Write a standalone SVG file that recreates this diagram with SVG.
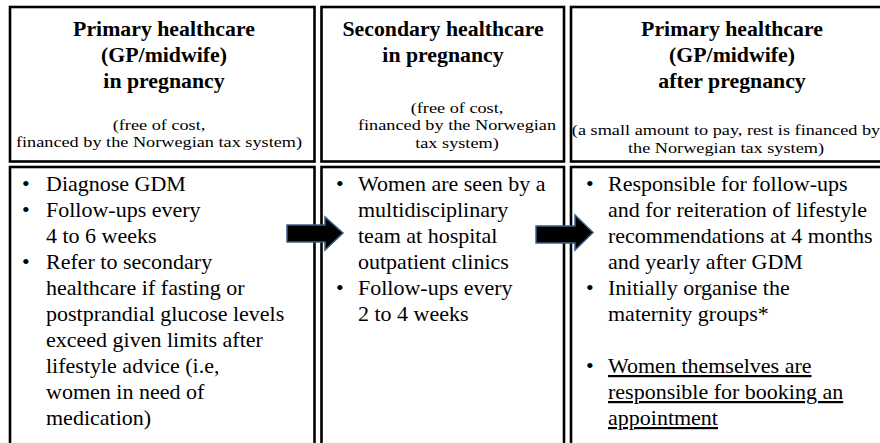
<svg xmlns="http://www.w3.org/2000/svg" width="880" height="443" viewBox="0 0 880 443">
<style>
.box{fill:#fff;stroke:#000;stroke-width:2.6}
.h{font-family:"Liberation Serif","Times New Roman",serif;font-weight:bold;font-size:21.8px;fill:#000;text-anchor:middle}
.s{font-family:"Liberation Serif","Times New Roman",serif;font-size:15.6px;fill:#000;text-anchor:middle}
.b{font-family:"Liberation Serif","Times New Roman",serif;font-size:22px;fill:#000}
.u{text-decoration:underline}
.arrow{fill:#000;stroke:#385D8A;stroke-width:1.5;stroke-linejoin:miter}
</style>
<rect x="0" y="0" width="880" height="443" fill="#fff"/>
<g id="col1">
  <rect class="box" x="10" y="7" width="304.5" height="154.5"/>
  <rect class="box" x="10" y="167" width="304.5" height="290"/>
  <g transform="translate(164,0)">
    <text class="h" x="0" y="36">Primary healthcare</text>
    <text class="h" x="0" y="62">(GP/midwife)</text>
    <text class="h" x="0" y="88">in pregnancy</text>
  </g>
  <g transform="translate(159,0) scale(1.17,1)">
    <text class="s" x="0" y="130">(free of cost,</text>
    <text class="s" x="0" y="147">financed by the Norwegian tax system)</text>
  </g>
  <g transform="translate(22,0)">
    <text class="b" x="0" y="191">•</text>
    <text class="b" x="0" y="217">•</text>
    <text class="b" x="0" y="269">•</text>
  </g>
  <g transform="translate(46,0)">
    <text class="b" x="0" y="191">Diagnose GDM</text>
    <text class="b" x="0" y="217">Follow-ups every</text>
    <text class="b" x="0" y="243">4 to 6 weeks</text>
    <text class="b" x="0" y="269">Refer to secondary</text>
    <text class="b" x="0" y="295">healthcare if fasting or</text>
    <text class="b" x="0" y="321">postprandial glucose levels</text>
    <text class="b" x="0" y="347">exceed given limits after</text>
    <text class="b" x="0" y="373">lifestyle advice (i.e,</text>
    <text class="b" x="0" y="399">women in need of</text>
    <text class="b" x="0" y="425">medication)</text>
  </g>
</g>
<g id="col2">
  <rect class="box" x="321.5" y="7" width="242.5" height="154.5"/>
  <rect class="box" x="321.5" y="167" width="242.5" height="290"/>
  <g transform="translate(443,0)">
    <text class="h" x="0" y="36">Secondary healthcare</text>
    <text class="h" x="0" y="62">in pregnancy</text>
  </g>
  <g transform="translate(457,0) scale(1.17,1)">
    <text class="s" x="0" y="113">(free of cost,</text>
    <text class="s" x="0" y="130.5">financed by the Norwegian</text>
    <text class="s" x="0" y="148">tax system)</text>
  </g>
  <g transform="translate(336,0)">
    <text class="b" x="0" y="191">•</text>
    <text class="b" x="0" y="295">•</text>
  </g>
  <g transform="translate(358,0)">
    <text class="b" x="0" y="191">Women are seen by a</text>
    <text class="b" x="0" y="217">multidisciplinary</text>
    <text class="b" x="0" y="243">team at hospital</text>
    <text class="b" x="0" y="269">outpatient clinics</text>
    <text class="b" x="0" y="295">Follow-ups every</text>
    <text class="b" x="0" y="321">2 to 4 weeks</text>
  </g>
</g>
<g id="col3">
  <rect class="box" x="571" y="7" width="320" height="154.5"/>
  <rect class="box" x="571" y="167" width="320" height="290"/>
  <g transform="translate(732,0)">
    <text class="h" x="0" y="36">Primary healthcare</text>
    <text class="h" x="0" y="62">(GP/midwife)</text>
    <text class="h" x="0" y="88">after pregnancy</text>
  </g>
  <g transform="translate(726,0) scale(1.17,1)">
    <text class="s" x="0" y="135">(a small amount to pay, rest is financed by</text>
    <text class="s" x="0" y="153">the Norwegian tax system)</text>
  </g>
  <g transform="translate(586,0)">
    <text class="b" x="0" y="191">•</text>
    <text class="b" x="0" y="295">•</text>
    <text class="b" x="0" y="373">•</text>
  </g>
  <g transform="translate(608,0)">
    <text class="b" x="0" y="191">Responsible for follow-ups</text>
    <text class="b" x="0" y="217">and for reiteration of lifestyle</text>
    <text class="b" x="0" y="243">recommendations at 4 months</text>
    <text class="b" x="0" y="269">and yearly after GDM</text>
    <text class="b" x="0" y="295">Initially organise the</text>
    <text class="b" x="0" y="321">maternity groups*</text>
    <text class="b u" x="0" y="373">Women themselves are</text>
    <text class="b u" x="0" y="399">responsible for booking an</text>
    <text class="b u" x="0" y="425">appointment</text>
  </g>
</g>
<g id="connectors">
  <path class="arrow" d="M287,225 L325,225 L325,217 L343,233 L325,250 L325,242 L287,242 Z"/>
  <path class="arrow" d="M536,226 L575,226 L575,215 L593,232.5 L575,250 L575,243 L536,243 Z"/>
</g>
</svg>
